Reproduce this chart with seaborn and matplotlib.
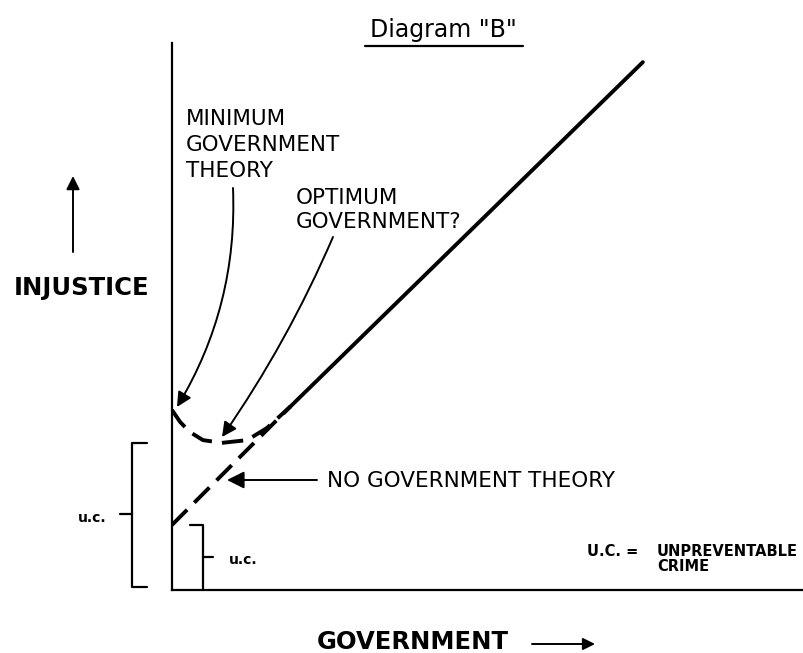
import matplotlib
matplotlib.use("Agg")
import matplotlib.pyplot as plt
import seaborn as sns
from matplotlib.lines import Line2D

# values (government 0-10, injustice 0-10)
gov_line = [0.0, 1.87, 7.45]
injustice_line = [1.19, 3.35, 9.65]
gov_curve = [0.0, 0.13, 0.28, 0.49, 0.79, 1.19, 1.50, 1.87]
injustice_curve = [3.29, 3.07, 2.89, 2.74, 2.69, 2.74, 2.96, 3.35]

W, H = 804, 653

sns.set_style("white")
plt.rcParams["font.family"] = ["DejaVu Sans"]
plt.rcParams["text.color"] = "black"

fig = plt.figure(figsize=(W / 100, H / 100), dpi=100)
ax = fig.add_axes([172 / W, (H - 590) / H, 632 / W, 547 / H])
ax.set_xlim(0, 10)
ax.set_ylim(0, 10)
ax.set_xticks([])
ax.set_yticks([])
for s in ["top", "right"]:
    ax.spines[s].set_visible(False)
for s in ["left", "bottom"]:
    ax.spines[s].set_linewidth(1.6)
    ax.spines[s].set_color("black")

dash = (0, (5.5, 2.6))
# no government theory: dashed start, then solid
sns.lineplot(x=gov_line[:2], y=injustice_line[:2], ax=ax, color="black",
             lw=2.8, linestyle=dash)
sns.lineplot(x=gov_line[1:], y=injustice_line[1:], ax=ax, color="black",
             lw=2.8)
# minimum government curve
sns.lineplot(x=gov_curve, y=injustice_curve, ax=ax, color="black", lw=2.8,
             linestyle=dash, sort=False)


def fp(x, y):
    # pixel from top-left -> figure pixels
    return (x, H - y)


def arrow(tail, head, rad=0.0, ms=20):
    ax.annotate("", xy=fp(*head), xycoords="figure pixels",
                xytext=fp(*tail), textcoords="figure pixels",
                annotation_clip=False,
                arrowprops=dict(arrowstyle="-|>", color="black", lw=1.4,
                                mutation_scale=ms, shrinkA=0, shrinkB=0,
                                connectionstyle=f"arc3,rad={rad}"))


def label(x, y, s, **kw):
    fig.text(x / W, 1 - y / H, s, color="black", **kw)


# brackets (u.c.)
big_top = min(injustice_curve)
small_top = injustice_line[0]
bx = -0.63
ax.plot([bx + 0.24, bx, bx, bx + 0.24], [big_top, big_top, 0.05, 0.05],
        color="black", lw=1.6, clip_on=False)
ax.plot([bx - 0.2, bx], [big_top / 2 + 0.05, big_top / 2 + 0.05],
        color="black", lw=1.6, clip_on=False)
sx = 0.49
ax.plot([sx - 0.2, sx, sx], [small_top, small_top, 0], color="black",
        lw=1.6, clip_on=False)
ax.plot([sx, sx + 0.16], [small_top / 2, small_top / 2], color="black",
        lw=1.6, clip_on=False)

label(92, 518, "u.c.", ha="center", va="center", fontsize=10,
      fontweight="bold")
label(243, 560, "u.c.", ha="center", va="center", fontsize=10,
      fontweight="bold")

# title
label(443, 30, 'Diagram "B"', ha="center", va="center", fontsize=17)
fig.add_artist(Line2D([365 / W, 523 / W], [1 - 46 / H, 1 - 46 / H],
                      color="black", lw=1.6))

# annotations
label(186, 145, "MINIMUM\nGOVERNMENT\nTHEORY", ha="left", va="center",
      fontsize=15.5, linespacing=1.38)
label(296, 210, "OPTIMUM\nGOVERNMENT?", ha="left", va="center",
      fontsize=15.5, linespacing=1.22)
label(327, 481, "NO GOVERNMENT THEORY", ha="left", va="center",
      fontsize=15.5)
arrow((233, 188), (177, 407), rad=-0.15, ms=22)
arrow((333, 237), (222, 437), rad=-0.05, ms=22)
arrow((317, 480), (227, 480), ms=26)

# axis labels
label(82, 288, "INJUSTICE", ha="center", va="center", fontsize=17.5,
      fontweight="bold")
arrow((73, 252), (73, 176), ms=20)
label(413, 642, "GOVERNMENT", ha="center", va="center", fontsize=17.5,
      fontweight="bold")
arrow((532, 644), (595, 644), ms=18)

# key
label(587, 552, "U.C. =", ha="left", va="center", fontsize=10.5,
      fontweight="bold")
label(657, 559, "UNPREVENTABLE\nCRIME", ha="left", va="center",
      fontsize=10.5, fontweight="bold", linespacing=1.05)

fig.savefig("out.png", dpi=100, facecolor="white")
